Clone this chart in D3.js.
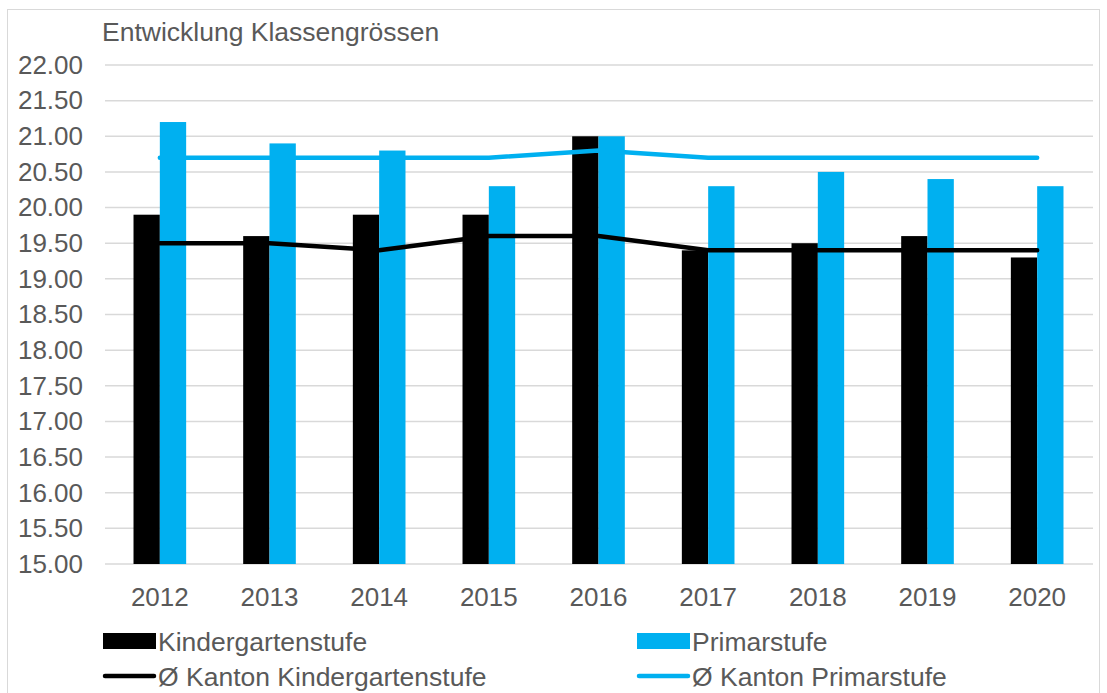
<!DOCTYPE html>
<html>
<head>
<meta charset="utf-8">
<script src="https://cdn.jsdelivr.net/npm/d3@7"></script>
<style>
  body { margin: 0; background: #fff; }
  text { font-family: "Liberation Sans", Arial, sans-serif; fill: #595959; }
</style>
</head>
<body>
<svg id="chart"></svg>
<script>
// Data
const years = ["2012", "2013", "2014", "2015", "2016", "2017", "2018", "2019", "2020"];
const kindergarten = [19.9, 19.6, 19.9, 19.9, 21.0, 19.4, 19.5, 19.6, 19.3];
const primar = [21.2, 20.9, 20.8, 20.3, 21.0, 20.3, 20.5, 20.4, 20.3];
const kantonKindergarten = [19.5, 19.5, 19.4, 19.6, 19.6, 19.4, 19.4, 19.4, 19.4];
const kantonPrimar = [20.7, 20.7, 20.7, 20.7, 20.8, 20.7, 20.7, 20.7, 20.7];
const yTicks = [15, 15.5, 16, 16.5, 17, 17.5, 18, 18.5, 19, 19.5, 20, 20.5, 21, 21.5, 22];

const width = 1107;
const height = 693;
const black = "#000000";
const blue = "#00B0F0";

const svg = d3.select("#chart").attr("width", width).attr("height", height);

// outer frame
svg.append("rect")
    .attr("x", 7.5).attr("y", 9.5)
    .attr("width", 1092).attr("height", 700)
    .attr("fill", "none")
    .attr("stroke", "#D9D9D9")
    .attr("stroke-width", 1);

// scales
const x = d3.scaleBand()
    .domain(years)
    .range([105, 1092])
    .paddingInner(0.52)
    .paddingOuter(0.26);

const x1 = d3.scaleBand()
    .domain(["kg", "pr"])
    .range([0, x.bandwidth()]);

const y = d3.scaleLinear()
    .domain([15, 22])
    .range([564, 65]);

// title
svg.append("text")
    .attr("x", 102)
    .attr("y", 41)
    .attr("font-size", 26.5)
    .text("Entwicklung Klassengrössen");

// gridlines
svg.append("g")
    .selectAll("line")
    .data(yTicks)
    .enter()
    .append("line")
    .attr("x1", 105)
    .attr("x2", 1093)
    .attr("y1", (d) => y(d))
    .attr("y2", (d) => y(d))
    .attr("stroke", "#D9D9D9")
    .attr("stroke-width", 1.5);

// y axis labels
const yAxis = svg.append("g")
    .attr("transform", "translate(83,0)")
    .call(d3.axisLeft(y).tickValues(yTicks).tickFormat(d3.format(".2f")).tickSize(0).tickPadding(0));
yAxis.select(".domain").remove();
yAxis.selectAll("text")
    .attr("font-size", 26)
    .attr("font-family", null)
    .attr("fill", "#595959");

// x axis labels
const xAxis = svg.append("g")
    .attr("transform", "translate(0,564)")
    .call(d3.axisBottom(x).tickSize(0).tickPadding(24));
xAxis.select(".domain").remove();
xAxis.selectAll("text")
    .attr("font-size", 26)
    .attr("font-family", null)
    .attr("fill", "#595959");

// bars
svg.append("g")
    .selectAll("rect")
    .data(years)
    .enter()
    .append("rect")
    .attr("x", (d) => x(d) + x1("kg"))
    .attr("y", (d, i) => y(kindergarten[i]))
    .attr("width", x1.bandwidth())
    .attr("height", (d, i) => y(15) - y(kindergarten[i]))
    .attr("fill", black);

svg.append("g")
    .selectAll("rect")
    .data(years)
    .enter()
    .append("rect")
    .attr("x", (d) => x(d) + x1("pr"))
    .attr("y", (d, i) => y(primar[i]))
    .attr("width", x1.bandwidth())
    .attr("height", (d, i) => y(15) - y(primar[i]))
    .attr("fill", blue);

// lines
const line = d3.line()
    .x((d, i) => x(years[i]) + x.bandwidth() / 2)
    .y((d) => y(d));

svg.append("path")
    .datum(kantonKindergarten)
    .attr("d", line)
    .attr("fill", "none")
    .attr("stroke", black)
    .attr("stroke-width", 4.5)
    .attr("stroke-linecap", "round")
    .attr("stroke-linejoin", "round");

svg.append("path")
    .datum(kantonPrimar)
    .attr("d", line)
    .attr("fill", "none")
    .attr("stroke", blue)
    .attr("stroke-width", 4.5)
    .attr("stroke-linecap", "round")
    .attr("stroke-linejoin", "round");

// legend
const legendItems = [
    { label: "Kindergartenstufe", color: black, type: "bar", lx: 103, ly: 641 },
    { label: "Primarstufe", color: blue, type: "bar", lx: 637, ly: 641 },
    { label: "Ø Kanton Kindergartenstufe", color: black, type: "line", lx: 103, ly: 676 },
    { label: "Ø Kanton Primarstufe", color: blue, type: "line", lx: 637, ly: 676 }
];

const legend = svg.append("g")
    .selectAll("g")
    .data(legendItems)
    .enter()
    .append("g")
    .attr("transform", (d) => `translate(${d.lx},${d.ly})`);

legend.filter((d) => d.type === "bar")
    .append("rect")
    .attr("x", 0)
    .attr("y", -8)
    .attr("width", 53)
    .attr("height", 16)
    .attr("fill", (d) => d.color);

legend.filter((d) => d.type === "line")
    .append("line")
    .attr("x1", 2)
    .attr("x2", 51)
    .attr("y1", 0)
    .attr("y2", 0)
    .attr("stroke", (d) => d.color)
    .attr("stroke-width", 4.5)
    .attr("stroke-linecap", "round");

legend.append("text")
    .attr("x", 55)
    .attr("y", 9.5)
    .attr("font-size", 26.5)
    .text((d) => d.label);
</script>
</body>
</html>
